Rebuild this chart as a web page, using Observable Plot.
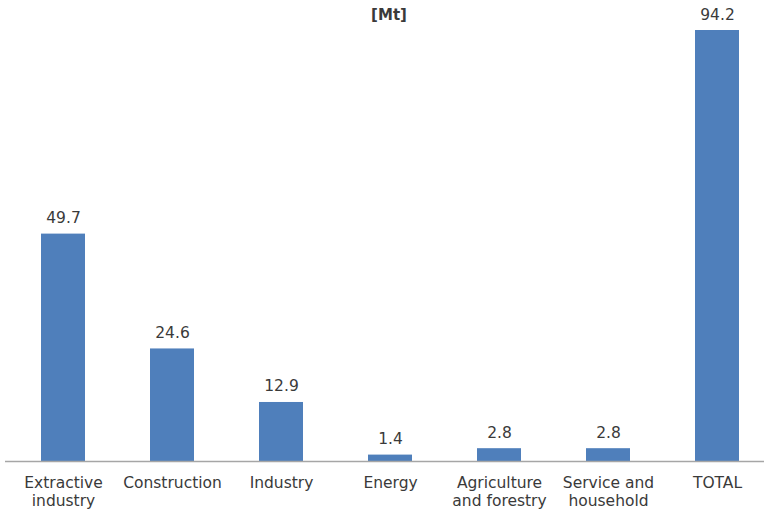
<!DOCTYPE html>
<html>
<head>
<meta charset="utf-8">
<script src="https://cdn.jsdelivr.net/npm/d3@7"></script>
<script src="https://cdn.jsdelivr.net/npm/@observablehq/plot@0.6"></script>
<style>
  html, body { margin: 0; padding: 0; background: #fff; }
  svg { display: block; }
</style>
</head>
<body>
<div id="chart"></div>
<script>
const categories = ["Extractive industry", "Construction", "Industry", "Energy", "Agriculture and forestry", "Service and household", "TOTAL"];
const tickLabels = ["Extractive\nindustry", "Construction", "Industry", "Energy", "Agriculture\nand forestry", "Service and\nhousehold", "TOTAL"];
const values = [49.7, 24.6, 12.9, 1.4, 2.8, 2.8, 94.2];
const unitTitle = "[Mt]";

const data = categories.map((c, i) => ({category: c, value: values[i]}));
const labelOf = new Map(categories.map((c, i) => [c, tickLabels[i]]));

const font = "'DejaVu Sans', Verdana, sans-serif";
const textColor = "#3a3a3a";

const chart = Plot.plot({
  width: 764,
  height: 512,
  marginTop: 0,
  marginBottom: 51,
  marginLeft: 5,
  marginRight: 0,
  style: {fontFamily: font, fontSize: "15px", color: textColor, background: "#fff"},
  x: {domain: categories, range: [7.3, 773], paddingInner: 0.6, paddingOuter: 0.3, label: null},
  y: {domain: [0, 94.2], range: [461, 30], axis: null},
  marks: [
    Plot.barY(data, {x: "category", y: "value", fill: "#4f7fbb"}),
    Plot.ruleY([0], {stroke: "#a6a6a6", strokeWidth: 1.3}),
    Plot.axisX({
      tickSize: 0,
      tickPadding: 13,
      tickFormat: d => labelOf.get(d),
      fontSize: 15.5,
      lineHeight: 1.2,
      lineAnchor: "top",
      fill: textColor
    }),
    Plot.text(data, {
      x: "category", y: "value", text: d => d.value.toFixed(1),
      dy: -11, lineAnchor: "bottom", fontSize: 15.5, fill: textColor
    }),
    Plot.text([unitTitle], {
      frameAnchor: "top", text: d => d, dy: 15, lineAnchor: "middle",
      fontWeight: "bold", fontSize: 15, fill: textColor, dx: 4
    })
  ]
});
document.getElementById("chart").append(chart);
</script>
</body>
</html>
